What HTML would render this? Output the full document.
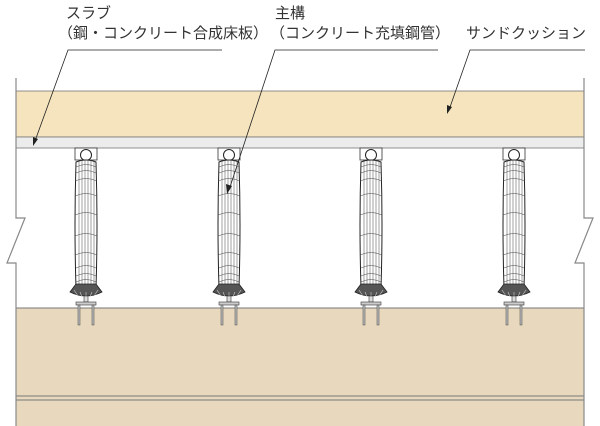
<!DOCTYPE html>
<html><head><meta charset="utf-8"><style>
body{margin:0;background:#fff;}
svg{display:block;font-family:"Liberation Sans","Noto Sans CJK JP",sans-serif;}
</style></head><body>
<svg width="600" height="426" viewBox="0 0 600 426" xmlns="http://www.w3.org/2000/svg">
<defs>
<g id="col">
  <rect x="-11" y="148" width="22" height="12" fill="#fff" stroke="#333" stroke-width="0.8"/>
  <circle cx="0" cy="155" r="5.5" fill="#fff" stroke="#222" stroke-width="1"/>
  <path d="M-10 162 Q-12 225 -10 288 L10 288 Q12 225 10 162 Q0 158 -10 162 Z" fill="#fff" stroke="#222" stroke-width="1"/>
  <g stroke="#444" stroke-width="0.5" fill="none">
    <line x1="-7" y1="161" x2="-7" y2="288"/><line x1="-4" y1="160" x2="-4" y2="288"/>
    <line x1="-1" y1="160" x2="-1" y2="288"/><line x1="2" y1="160" x2="2" y2="288"/>
    <line x1="5" y1="160" x2="5" y2="288"/><line x1="8" y1="161" x2="8" y2="288"/>
    <path d="M-10 167 Q0 162 10 167 M-10 173 Q0 168 10 173 M-11 181 Q0 176 11 181 M-11 196 Q0 191 11 196 M-11 215 Q0 210 11 215 M-11 236 Q0 231 11 236 M-11 255 Q0 250 11 255 M-10 268 Q0 263 10 268 M-10 276 Q0 271 10 276 M-10 282 Q0 277 10 282"/>
  </g>
  <path d="M-10 284 L-16 292 Q0 300 16 292 L10 284 Z" fill="#555" stroke="#222" stroke-width="0.8"/>
  <path d="M-12 290 L-8 296 M-6 292 L-4 297 M0 292 L0 298 M6 292 L4 297 M12 290 L8 296" stroke="#ccc" stroke-width="0.6"/>
  <rect x="-2" y="296" width="4" height="6" fill="#ddd" stroke="#333" stroke-width="0.6"/>
  <rect x="-10" y="302" width="20" height="3" fill="#ccc" stroke="#333" stroke-width="0.6"/>
  <rect x="-8" y="305" width="2" height="20" fill="#bbb" stroke="#444" stroke-width="0.5"/>
  <rect x="6" y="305" width="2" height="20" fill="#bbb" stroke="#444" stroke-width="0.5"/>
</g>
</defs>
<rect x="16" y="308" width="568" height="118" fill="#e8d9be"/>
<line x1="16" y1="308" x2="584" y2="308" stroke="#777" stroke-width="1"/>
<line x1="16" y1="396" x2="584" y2="396" stroke="#777" stroke-width="1"/>
<line x1="16" y1="400" x2="584" y2="400" stroke="#777" stroke-width="1"/>
<rect x="16" y="91" width="568" height="46" fill="#f5e4bd" stroke="#777" stroke-width="0.8"/>
<rect x="16" y="137" width="568" height="11" fill="#ececec" stroke="#777" stroke-width="0.8"/>
<path d="M16 78 L16 218 L25 218 L7 263 L16 263 L16 426" fill="none" stroke="#888" stroke-width="1.2"/>
<path d="M584 78 L584 218 L593 218 L575 263 L584 263 L584 426" fill="none" stroke="#888" stroke-width="1.2"/>
<use href="#col" x="86"/>
<use href="#col" x="229"/>
<use href="#col" x="371"/>
<use href="#col" x="514"/>
<g font-size="15" fill="#333">
  <text x="66" y="18">スラブ</text>
  <text x="58" y="38">（鋼・コンクリート合成床板）</text>
  <text x="275" y="18">主構</text>
  <text x="270" y="38">（コンクリート充填鋼管）</text>
  <text x="466" y="38">サンドクッション</text>
</g>
<g stroke="#222" stroke-width="0.8" fill="none">
  <path d="M222 50 L68 50 L35 141"/>
  <path d="M438 50 L275 50 L229 190"/>
  <path d="M585 50 L470 50 L449 110"/>
</g>
<g fill="#222">
  <polygon points="33,146 33,137 38,139"/>
  <polygon points="227,194 226,184 232,186"/>
  <polygon points="447,114 447,105 452,107"/>
</g>
</svg>
</body></html>
